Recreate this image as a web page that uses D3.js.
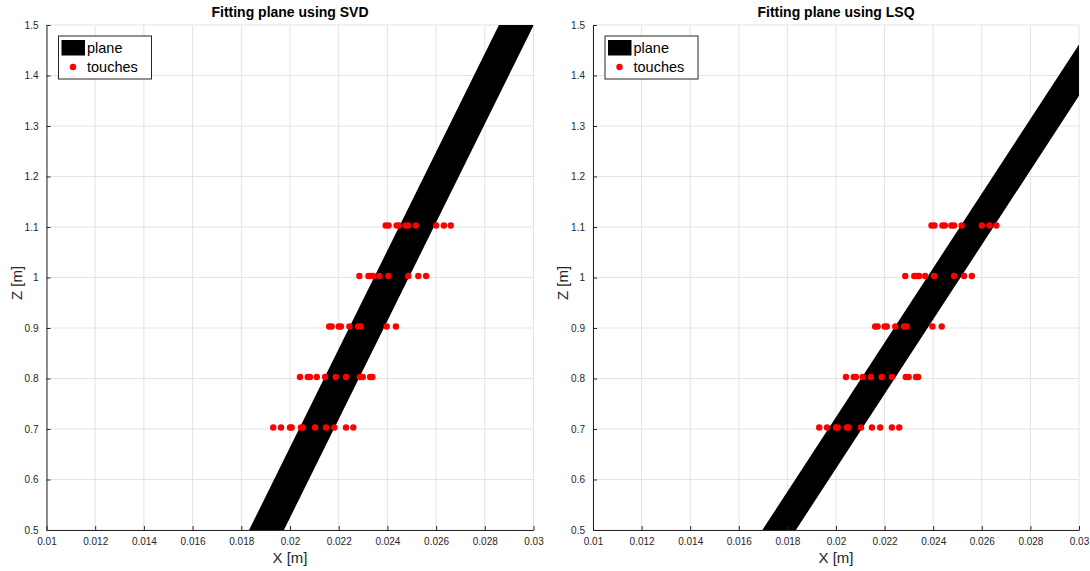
<!DOCTYPE html>
<meta charset="utf-8">
<script src="https://d3js.org/d3.v7.min.js"></script>
<style>
  body { margin: 0; background: #fff; }
  text { font-family: "Liberation Sans", Arial, sans-serif; }
</style>
<svg id="chart" width="1090" height="571"></svg>
<script>

// ---- data ----
var titles = ["Fitting plane using SVD", "Fitting plane using LSQ"];
var xTicks = [0.01, 0.012, 0.014, 0.016, 0.018, 0.02, 0.022, 0.024, 0.026, 0.028, 0.03];
var zTicks = [0.5, 0.6, 0.7, 0.8, 0.9, 1, 1.1, 1.2, 1.3, 1.4, 1.5];

// touch rows (z level) and the x of each touch
var touchLevels = [0.703, 0.803, 0.903, 1.003, 1.103];
var touchX07 = [0.01931, 0.01963, 0.02000, 0.02007, 0.02045, 0.02052, 0.02103, 0.02148, 0.02182, 0.02230, 0.02260];
var touchX08 = [0.02041, 0.02073, 0.02082, 0.02110, 0.02144, 0.02188, 0.02230, 0.02287, 0.02299, 0.02329, 0.02338];
var touchX09 = [0.02161, 0.02171, 0.02200, 0.02209, 0.02244, 0.02280, 0.02290, 0.02397, 0.02435];
var touchX10 = [0.02285, 0.02322, 0.02333, 0.02342, 0.02367, 0.02404, 0.02486, 0.02527, 0.02559];
var touchX11 = [0.02393, 0.02405, 0.02438, 0.02448, 0.02475, 0.02486, 0.02517, 0.02600, 0.02632, 0.02660];

// plane band as seen in the X-Z view: corners [x, z]
var planeSVD = [[0.01832, 0.5], [0.01975, 0.5], [0.03001, 1.5], [0.02858, 1.5]];
var planeLSQ = [[0.01697, 0.5], [0.01835, 0.5], [0.03190, 1.5], [0.03052, 1.5]];

// ---- layout ----
var svg = d3.select("#chart");
var panels = [
  { x0: 46.5, x1: 533.5, plane: planeSVD, title: titles[0] },
  { x0: 593, x1: 1079, plane: planeLSQ, title: titles[1] }
];
var yTop = 25, yBottom = 530;

var touches = [];
[touchX07, touchX08, touchX09, touchX10, touchX11].forEach(function(row, i) {
  row.forEach(function(x) { touches.push({ x: x, z: touchLevels[i] }); });
});

var fmt = function(d) { return String(+d.toFixed(3)); };

panels.forEach(function(p, k) {
  var x = d3.scaleLinear().domain([0.01, 0.03]).range([p.x0, p.x1]);
  var z = d3.scaleLinear().domain([0.5, 1.5]).range([yBottom, yTop]);

  var g = svg.append("g");

  // clip
  g.append("clipPath").attr("id", "clip" + k)
    .append("rect")
    .attr("x", p.x0).attr("y", yTop)
    .attr("width", p.x1 - p.x0).attr("height", yBottom - yTop);

  // grid
  g.append("g").selectAll("line").data(xTicks).enter().append("line")
    .attr("x1", d => x(d)).attr("x2", d => x(d))
    .attr("y1", yTop).attr("y2", yBottom)
    .attr("stroke", "#e3e3e3").attr("stroke-width", 1);
  g.append("g").selectAll("line").data(zTicks).enter().append("line")
    .attr("x1", p.x0).attr("x2", p.x1)
    .attr("y1", d => z(d)).attr("y2", d => z(d))
    .attr("stroke", "#e3e3e3").attr("stroke-width", 1);

  // plane
  g.append("path")
    .attr("clip-path", "url(#clip" + k + ")")
    .attr("d", d3.line().x(d => x(d[0])).y(d => z(d[1]))(p.plane) + "Z")
    .attr("fill", "#000");

  // touches
  g.append("g").attr("clip-path", "url(#clip" + k + ")")
    .selectAll("circle").data(touches).enter().append("circle")
    .attr("cx", d => x(d.x)).attr("cy", d => z(d.z))
    .attr("r", 3.2).attr("fill", "#ff0000");

  // axes
  var xAxis = g.append("g").attr("transform", "translate(0," + yBottom + ")")
    .call(d3.axisBottom(x).tickValues(xTicks).tickFormat(fmt).tickSizeInner(-4).tickSizeOuter(0).tickPadding(8));
  var zAxis = g.append("g").attr("transform", "translate(" + p.x0 + ",0)")
    .call(d3.axisLeft(z).tickValues(zTicks).tickFormat(fmt).tickSizeInner(-4).tickSizeOuter(0).tickPadding(8));
  [xAxis, zAxis].forEach(function(a) {
    a.select(".domain").attr("stroke", "#262626");
    a.selectAll(".tick line").attr("stroke", "#262626");
    a.selectAll(".tick text").attr("fill", "#262626").style("font-size", "10px");
  });

  // labels
  g.append("text").attr("x", (p.x0 + p.x1) / 2).attr("y", 17)
    .attr("text-anchor", "middle").style("font-size", "14px").style("font-weight", "bold")
    .attr("fill", "#000").text(p.title);
  g.append("text").attr("x", (p.x0 + p.x1) / 2).attr("y", 563)
    .attr("text-anchor", "middle").style("font-size", "15px")
    .attr("fill", "#262626").text("X [m]");
  g.append("text")
    .attr("transform", "translate(" + (p.x0 - 25) + ",283) rotate(-90)")
    .attr("text-anchor", "middle").style("font-size", "15px")
    .attr("fill", "#262626").text("Z [m]");

  // legend
  var lg = g.append("g").attr("transform", "translate(" + (p.x0 + 12) + ",36)");
  lg.append("rect").attr("width", 93).attr("height", 43)
    .attr("fill", "#fff").attr("stroke", "#262626").attr("stroke-width", 1);
  lg.append("rect").attr("x", 3).attr("y", 4).attr("width", 23.5).attr("height", 15.5).attr("fill", "#000");
  lg.append("circle").attr("cx", 14.5).attr("cy", 31).attr("r", 3.2).attr("fill", "#ff0000");
  lg.append("text").attr("x", 28.5).attr("y", 17).style("font-size", "14.5px").attr("fill", "#000").text("plane");
  lg.append("text").attr("x", 28.5).attr("y", 36).style("font-size", "14.5px").attr("fill", "#000").text("touches");
});

</script>
